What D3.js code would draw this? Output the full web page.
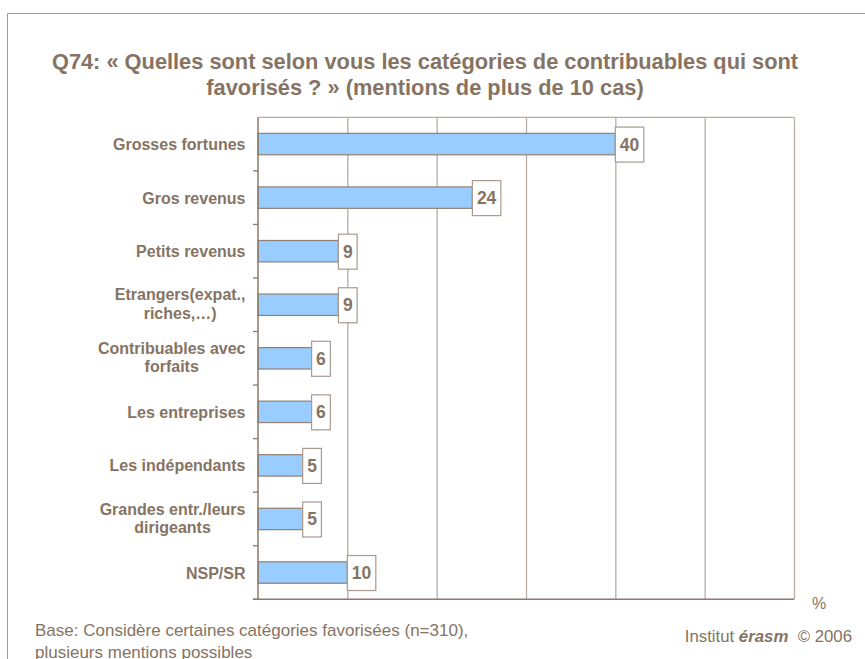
<!DOCTYPE html>
<html><head><meta charset="utf-8">
<script src="https://cdn.jsdelivr.net/npm/d3@7"></script>
<style>
html,body{margin:0;padding:0;background:#fff;}
svg{display:block;font-family:"Liberation Sans",Arial,sans-serif;}
</style></head>
<body>
<svg id="c" width="865" height="659"></svg>
<script>
(function(){
const categories = [
  ["Grosses fortunes"],
  ["Gros revenus"],
  ["Petits revenus"],
  ["Etrangers(expat.,", "riches,…)"],
  ["Contribuables avec", "forfaits"],
  ["Les entreprises"],
  ["Les indépendants"],
  ["Grandes entr./leurs", "dirigeants"],
  ["NSP/SR"]
];
const values = [40, 24, 9, 9, 6, 6, 5, 5, 10];
const xTicks = [0, 10, 20, 30, 40, 50, 60];
const titleLines = [
  "Q74: « Quelles sont selon vous les catégories de contribuables qui sont",
  "favorisés ? » (mentions de plus de 10 cas)"
];
const footLines = ["Base: Considère certaines catégories favorisées (n=310),", "plusieurs mentions possibles"];

const textCol = "#857363";
const axisCol = "#8b7b6c";
const gridCol = "#b8ada5";

const svg = d3.select("#c");
const keys = categories.map((c, i) => i);

const x = d3.scaleLinear().domain([0, 60]).range([258, 794]);
const y = d3.scaleBand().domain(keys).range([117.3, 599.3]).paddingInner(0.6).paddingOuter(0.3);

// outer frame
svg.append("path").attr("d", "M7.5,659 V13.5 H865").attr("fill", "none").attr("stroke", "#a89a8e").attr("stroke-width", 1);

// title
svg.append("g").selectAll("text").data(titleLines).join("text")
  .attr("x", 425).attr("y", (d, i) => 69 + i * 26)
  .attr("text-anchor", "middle").attr("font-weight", "bold").attr("font-size", 21.8)
  .attr("fill", textCol).text(d => d);

// gridlines
const yTop = y.range()[0], yBot = y.range()[1];
svg.append("g").attr("transform", `translate(0,${yBot})`)
  .call(d3.axisBottom(x).tickValues(xTicks.slice(1)).tickSize(-(yBot - yTop)).tickFormat(""))
  .call(g => g.select(".domain").remove())
  .call(g => g.selectAll(".tick line").attr("stroke", gridCol).attr("stroke-width", 1.3));
svg.append("line").attr("x1", x(0)).attr("x2", x(60)).attr("y1", yTop).attr("y2", yTop)
  .attr("stroke", gridCol).attr("stroke-width", 1.3);

// bars
svg.append("g").selectAll("rect").data(values).join("rect")
  .attr("x", x(0)).attr("y", (d, i) => y(i))
  .attr("width", d => x(d) - x(0)).attr("height", y.bandwidth())
  .attr("fill", "#99ccff").attr("stroke", "#8f8073").attr("stroke-width", 1.2);

// left axis with ticks at band boundaries
const boundaries = d3.range(0, categories.length + 1).map(k => yTop + k * y.step());
svg.append("g").selectAll("line").data(boundaries.slice(1)).join("line")
  .attr("x1", x(0) - 5).attr("x2", x(0)).attr("y1", d => d).attr("y2", d => d)
  .attr("stroke", axisCol).attr("stroke-width", 1.3);
svg.append("line").attr("x1", x(0)).attr("x2", x(0)).attr("y1", yTop).attr("y2", yBot)
  .attr("stroke", axisCol).attr("stroke-width", 1.5);
svg.append("line").attr("x1", x(0) - 5).attr("x2", x(60)).attr("y1", yBot).attr("y2", yBot)
  .attr("stroke", axisCol).attr("stroke-width", 1.5);

// category labels
const labG = svg.append("g").attr("font-weight", "bold").attr("font-size", 16).attr("fill", textCol);
categories.forEach((lines, i) => {
  const cy = y(i) + y.bandwidth() / 2;
  const lh = 18.5;
  const off = lines.length > 1 ? 4.8 : 6;
  const g = labG.append("g");
  const t = g.selectAll("text").data(lines).join("text")
    .attr("y", (d, j) => cy + (j - (lines.length - 1) / 2) * lh + off)
    .attr("text-anchor", "middle").text(d => d);
  let maxW = 0;
  t.each(function () { maxW = Math.max(maxW, this.getComputedTextLength()); });
  t.attr("x", 245.5 - maxW / 2);
});

// value boxes
const vg = svg.append("g");
values.forEach((v, i) => {
  const cy = y(i) + y.bandwidth() / 2;
  const g = vg.append("g");
  const rect = g.append("rect");
  const t = g.append("text").attr("font-weight", "bold").attr("font-size", 17.5).attr("fill", textCol)
    .attr("y", cy + 6.5).text(v);
  const w = t.node().getComputedTextLength() + 9;
  t.attr("x", x(v) + w / 2).attr("text-anchor", "middle");
  rect.attr("x", x(v)).attr("y", cy - 17).attr("width", w).attr("height", 35)
    .attr("fill", "#fff").attr("stroke", "#a89a8e").attr("stroke-width", 1.2);
});

// % label
svg.append("text").attr("x", 819).attr("y", 609).attr("text-anchor", "middle")
  .attr("font-size", 16).attr("fill", textCol).text("%");

// footer
svg.append("g").selectAll("text").data(footLines).join("text")
  .attr("x", 35).attr("y", (d, i) => 636 + i * 21.5)
  .attr("font-size", 17).attr("fill", textCol).text(d => d);

const inst = svg.append("text").attr("x", 852).attr("y", 642).attr("text-anchor", "end")
  .attr("font-size", 16.8).attr("fill", textCol).style("white-space", "pre");
inst.append("tspan").text("Institut ");
inst.append("tspan").attr("font-weight", "bold").attr("font-style", "italic").text("érasm");
inst.append("tspan").text("  © 2006");
})();
</script>
</body></html>
